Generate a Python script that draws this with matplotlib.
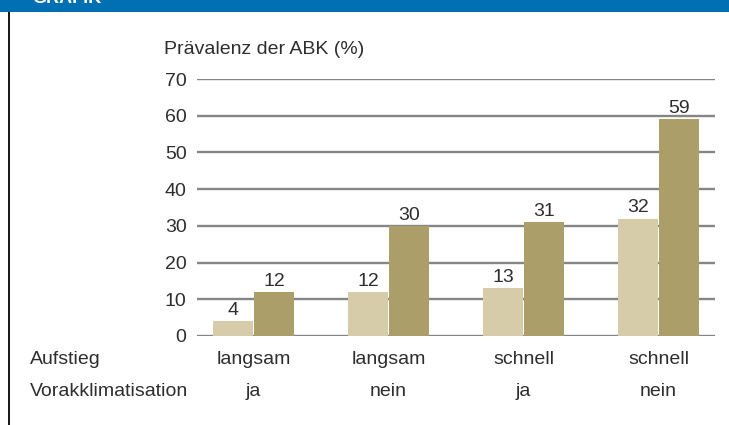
import numpy as np
import matplotlib.pyplot as plt
from matplotlib.patches import Rectangle

plt.rcParams['font.family'] = ['Liberation Sans', 'DejaVu Sans']

# data
aufstieg = ["langsam", "langsam", "schnell", "schnell"]
vorakklimatisation = ["ja", "nein", "ja", "nein"]
werte_hell = [4, 12, 13, 32]
werte_dunkel = [12, 30, 31, 59]
yticks = [0, 10, 20, 30, 40, 50, 60, 70]

HELL = "#d7cca9"
DUNKEL = "#ab9e68"
GRID = "#858585"
TEXT = "#2e2e2e"
FS = 14

fig = plt.figure(figsize=(7.29, 4.25), dpi=100)
W, H = 729, 425

# header bar + left rule
fig.patches.append(Rectangle((0, 1 - 12 / H), 1, 12 / H, transform=fig.transFigure,
                             facecolor="#0070b2", edgecolor="none"))
fig.text(32 / W, 1 + 1 / H, "GRAFIK", color="white", fontsize=13, fontweight="bold",
         va="center", ha="left")
fig.patches.append(Rectangle((7.5 / W, 0), 2.5 / W, 1 - 12 / H, transform=fig.transFigure,
                             facecolor="#1a1a1a", edgecolor="none"))

ax = fig.add_axes([197 / W, 1 - 336 / H, (715 - 197) / W, (336 - 79) / H])
x = np.arange(len(aufstieg))
bw = 0.296
off = 0.152

for y in yticks:
    ax.axhline(y, color=GRID, lw=1.7, zorder=1)

b1 = ax.bar(x - off, werte_hell, bw, color=HELL, zorder=2)
b2 = ax.bar(x + off, werte_dunkel, bw, color=DUNKEL, zorder=2)
for bars, vals in ((b1, werte_hell), (b2, werte_dunkel)):
    for r, v in zip(bars, vals):
        ax.text(r.get_x() + r.get_width() / 2, v + 0.6, str(v), ha="center", va="bottom",
                fontsize=FS, color=TEXT)

x0 = -(253.5 - 197) / 135
ax.set_xlim(x0, x0 + (715 - 197) / 135)
ax.set_ylim(0, 70)
ax.set_yticks(yticks)
ax.set_yticklabels([str(t) for t in yticks], fontsize=FS, color=TEXT)
ax.tick_params(axis="y", length=0, pad=7.5)
ax.set_xticks([])
for s in ax.spines.values():
    s.set_visible(False)
ax.patch.set_visible(False)

fig.text(164 / W, 1 - 50 / H, "Prävalenz der ABK (%)", fontsize=FS, color=TEXT,
         ha="left", va="center")

fig.text(30 / W, 1 - 359 / H, "Aufstieg", fontsize=FS, color=TEXT, ha="left", va="center")
fig.text(30 / W, 1 - 392 / H, "Vorakklimatisation", fontsize=FS, color=TEXT, ha="left", va="center")
for xi, a, v in zip(x, aufstieg, vorakklimatisation):
    xf = (253.5 + xi * 135) / W
    fig.text(xf, 1 - 359 / H, a, fontsize=FS, color=TEXT, ha="center", va="center")
    fig.text(xf, 1 - 392 / H, v, fontsize=FS, color=TEXT, ha="center", va="center")

fig.savefig("out.png", dpi=100)
